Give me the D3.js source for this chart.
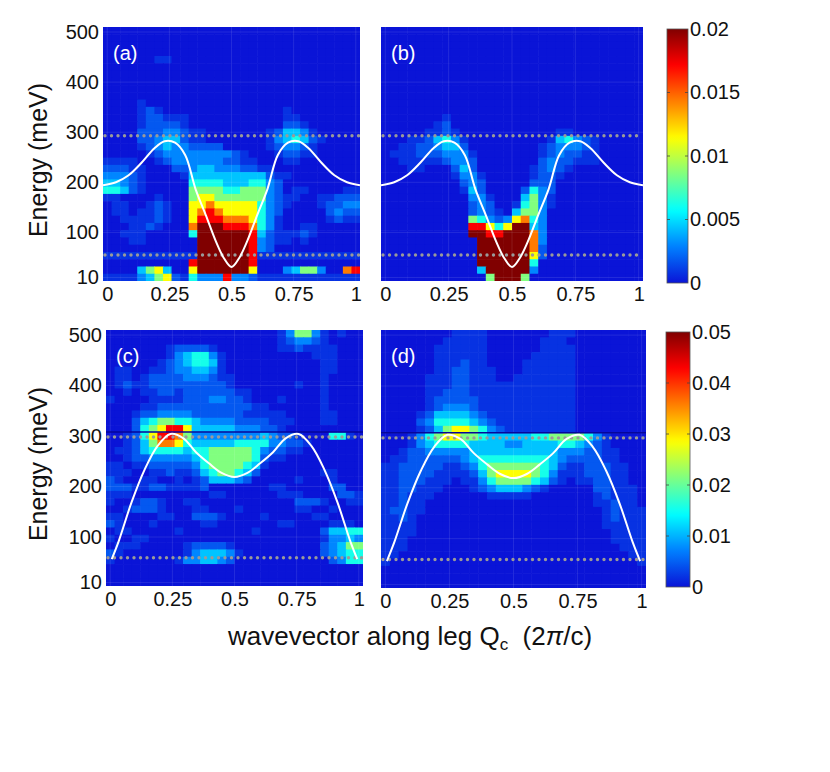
<!DOCTYPE html>
<html>
<head>
<meta charset="utf-8">
<script src="https://cdn.jsdelivr.net/npm/d3@7"></script>
<style>
  body { margin: 0; background: #fff; }
  text { font-family: "Liberation Sans", Arial, Helvetica, sans-serif; }
</style>
</head>
<body>
<svg id="chart" width="830" height="772"></svg>
<script>
// ---- data ----
const qTicks = [0, 0.25, 0.5, 0.75, 1];
const eTicks = [10, 100, 200, 300, 400, 500];
const cbTicksTop = [0, 0.005, 0.01, 0.015, 0.02];
const cbTicksBottom = [0, 0.01, 0.02, 0.03, 0.04, 0.05];

// intensity of each grid character, as a fraction of the colour bar maximum
const levelFrac = [0, 0.04, 0.09, 0.15, 0.22, 0.31, 0.43, 0.57, 0.72, 0.86, 1];

// heatmap grids: 35 energy rows (top = high energy), 30 wavevector columns
const gridA = [
  "0000000000|0000000000|0000000000",
  "0000000000|0000000000|0000000000",
  "0000000000|0000000000|0000000000",
  "0000000000|0000000000|0000000000",
  "0000001100|0000000000|0000000000",
  "0000000000|0000000000|0000000000",
  "0000000000|0000000000|0000000000",
  "0000000000|0000000000|0000000000",
  "0000000000|0000000000|0000000000",
  "0000000000|0000000000|0000000000",
  "0000100000|0000000000|0000000000",
  "0000121000|0000000000|0100000000",
  "0000122111|0000000000|0110000000",
  "0000122221|0000000000|0221000000",
  "0000222332|1100000001|2443100000",
  "0000223442|1100000001|3454210000",
  "0000123433|2222000001|2332100000",
  "0000012333|3333321000|1221100000",
  "1111001233|3333221100|0110000000",
  "2221100022|3443332211|0000000000",
  "3332100001|4444444442|1100000000",
  "4432100000|5555444553|2000000000",
  "5542100000|6666556663|2011000011",
  "1100001000|6776666663|2110011222",
  "0110012100|7787777753|2100012233",
  "0110112100|7898777753|2000002322",
  "0011112100|7999888753|1000001211",
  "0001121000|8aaa999853|1001100000",
  "0011100000|5aaaaaa942|1112100000",
  "0001100000|0aaaaaa932|1101000000",
  "0000000000|0aaaaaa932|0000000000",
  "1111111111|1aaaaaa911|1111111111",
  "0000000000|9aaaaaa900|0000000000",
  "0000467400|7aaaaaa700|0346630089",
  "1111346721|5333933211|1111111111"
];
const gridB = [
  "0000000000|0000000000|0000000000",
  "0000000000|0000000000|0000000000",
  "0000000000|0000000000|0000000000",
  "0000000000|0000000000|0000000000",
  "0000000000|0000000000|0000000000",
  "0000000000|0000000000|0000000000",
  "0000000000|0000000000|0000000000",
  "0000000000|0000000000|0000000000",
  "0000000000|0000000000|0000000000",
  "0000000000|0000000000|0000000000",
  "0000000000|0000000000|0000000000",
  "0000000000|0000000000|0000000000",
  "0000000100|0000000000|0000000000",
  "0000001200|0000000000|0000000000",
  "0000011210|0000000000|1100000000",
  "0001124531|0000000001|4532100000",
  "0011223442|0000000012|3332100000",
  "0111222333|1000000012|3221100000",
  "0011111233|2000000023|2211100000",
  "0001100024|2000000123|2100000000",
  "0000000013|3100000122|1000000000",
  "0000000002|3200000222|0000000000",
  "0000000001|4200002532|0000000000",
  "0000000000|3310004631|0000000000",
  "0000000000|2320015631|0000000000",
  "0000000000|2321046630|0000000000",
  "0000000000|6532378530|0000000000",
  "0000000000|99757aa430|0000000000",
  "0000000000|aa99aaa830|0000000000",
  "0000000000|0aaaaaa830|0000000000",
  "0000000000|0aaaaaa820|0000000000",
  "0000000000|0aaaaaa720|0000000000",
  "0000000000|0aaaaaa500|0000000000",
  "0000000000|04aaaaa300|0000000000",
  "0000000000|006aaa6000|0000000000"
];
const gridC = [
  "0000000000|0000000000|1366310100",
  "0000000000|0000000000|1233210000",
  "0000000122|2210000000|1121111000",
  "0000000134|5531000000|0000111000",
  "0000001234|5541000000|0000011000",
  "0110011233|4431000000|0000011000",
  "0110122223|3321100000|0000010000",
  "0121122222|2222100000|0010010000",
  "0010112212|2222211000|0000010000",
  "1000011112|2233221000|1000010000",
  "0000112222|2222222110|0000010000",
  "0001223333|2222221111|1000011000",
  "0002456655|4333322221|1100011000",
  "0002567997|4444433322|1000000000",
  "0012579986|3333333343|2210005510",
  "0012468875|4444455553|3221000000",
  "0112455554|5566666532|2110000000",
  "0012233333|4566666521|1000000000",
  "1101122222|3566665410|0000000000",
  "1110011211|2456654200|0000011000",
  "2100110010|1244432000|0010001000",
  "2221122111|1200000001|1000002200",
  "1110000000|0011000000|1110000221",
  "1001221001|1000000000|0022210011",
  "0012221000|1100010000|0011001000",
  "1100001100|2221000010|0000110000",
  "2100010000|0110000000|1100001110",
  "0110000010|0000000100|0000024455",
  "1001100000|0000000000|0000013343",
  "0111000001|2222100000|0000023466",
  "2100000001|3444310000|0000023455",
  "1000000013|3443200000|0000002355",
  "0000000000|0000000000|0000000000",
  "0000000000|0000000000|0000000000",
  "0000000000|0000000000|0000000000"
];
const gridD = [
  "0000000011|1100000001|1100000000",
  "0000000111|1100000011|1000000000",
  "0000001111|1100000011|1100000000",
  "0000001111|1100000111|1100000000",
  "0000001112|1100001111|1100000000",
  "0000001122|1110001111|1100000000",
  "0000011122|1110011111|1100000000",
  "0000011122|1111111111|1100000000",
  "0000011222|1111111111|1100000000",
  "0000012222|2111111111|1100000000",
  "0000012333|2111111111|1100000000",
  "0000124444|3211111111|1100000000",
  "0000235555|4321111111|1100000000",
  "0000124677|6532111111|1100000000",
  "0001356776|6544444556|6665310000",
  "0001345555|4444334444|5543210000",
  "0012233333|4444444444|3332211000",
  "0112222223|4555555554|3222211000",
  "1122222112|3566666654|2112221100",
  "1122221111|2467777653|1112221100",
  "1122211101|1356666542|1011221100",
  "1122111000|1234443210|0000221110",
  "1121110000|0011111000|0000121110",
  "1121100000|0000000000|0000112110",
  "1221100000|0000000000|0000012111",
  "1121000000|0000000000|0000012111",
  "1111000000|0000000000|0000011111",
  "1111000000|0000000000|0000001111",
  "1110000000|0000000000|0000001111",
  "1110000000|0000000000|0000000111",
  "1100000000|0000000000|0000000011",
  "1000000000|0000000000|0000000001",
  "0000000000|0000000000|0000000000",
  "0000000000|0000000000|0000000000",
  "0000000000|0000000000|0000000000"
];

// dispersion curves (wavevector, energy in meV)
const curveTopQ = [-0.017, 0.035, 0.086, 0.138, 0.19, 0.231, 0.273, 0.314, 0.355, 0.397, 0.438, 0.469, 0.5,
                   0.531, 0.562, 0.603, 0.645, 0.686, 0.727, 0.769, 0.81, 0.862, 0.914, 0.965, 1.017];
const curveTopE = [194, 200, 214, 239, 268, 282, 279, 254, 187, 134, 81, 49, 31,
                   49, 81, 134, 187, 254, 279, 282, 268, 239, 214, 200, 194];
const curveBotQ = [0.006, 0.035, 0.086, 0.138, 0.19, 0.242, 0.293, 0.345, 0.397, 0.448, 0.5,
                   0.552, 0.603, 0.655, 0.707, 0.758, 0.81, 0.862, 0.914, 0.965, 0.994];
const curveBotE = [56, 93, 169, 233, 280, 304, 296, 268, 246, 227, 219,
                   227, 246, 268, 296, 304, 280, 233, 169, 93, 56];

// dotted reference energies and the data gap line (meV)
const dotsTop = [293, 55];
const dotsBottom = [298, 59];
const gapBottom = [308];

// ---- layout ----
const qDomain = [-0.017, 1.017];
const eDomain = [3, 510];
const nCols = 30, nRows = 35;

const panels = [
  {label: '(a)', grid: gridA, cmax: 0.02, cq: curveTopQ, ce: curveTopE, dots: dotsTop, gap: [], x: 103, y: 27, w: 257, h: 254, left: true},
  {label: '(b)', grid: gridB, cmax: 0.02, cq: curveTopQ, ce: curveTopE, dots: dotsTop, gap: [], x: 381, y: 27, w: 262, h: 254, left: false},
  {label: '(c)', grid: gridC, cmax: 0.05, cq: curveBotQ, ce: curveBotE, dots: dotsBottom, gap: gapBottom, x: 106, y: 330, w: 257, h: 256, left: true},
  {label: '(d)', grid: gridD, cmax: 0.05, cq: curveBotQ, ce: curveBotE, dots: dotsBottom, gap: gapBottom, x: 381, y: 330, w: 265, h: 258, left: false}
];
const colorbars = [
  {ticks: cbTicksTop, x: 667, y: 29, w: 21, h: 254},
  {ticks: cbTicksBottom, x: 666, y: 332, w: 24, h: 255}
];

const FONT = '"Liberation Sans", Arial, Helvetica, sans-serif';

const svg = d3.select('#chart');
const defs = svg.append('defs');

// jet colour map starting at blue
const jet = d3.scaleLinear()
  .domain([0, 0.143, 0.286, 0.429, 0.571, 0.714, 0.857, 1])
  .range(['#0a14d7', '#0080ff', '#00ffff', '#80ff80', '#ffff00', '#ff8000', '#ff0000', '#800000'])
  .interpolate(d3.interpolateRgb)
  .clamp(true);

panels.forEach((p, i) => {
  const x = d3.scaleLinear().domain(qDomain).range([p.x, p.x + p.w]);
  const y = d3.scaleLinear().domain(eDomain).range([p.y + p.h, p.y]);
  const color = d3.scaleSequential(jet).domain([0, p.cmax]);

  const clipId = 'clip' + i;
  defs.append('clipPath').attr('id', clipId)
    .append('rect').attr('x', p.x).attr('y', p.y).attr('width', p.w).attr('height', p.h);

  const g = svg.append('g').attr('clip-path', `url(#${clipId})`);

  const cells = [];
  p.grid.forEach((row, j) => {
    const s = row.replace(/\|/g, '').padEnd(nCols, '0');
    s.split('').slice(0, nCols).forEach((ch, k) => {
      cells.push({k: k, j: j, v: levelFrac[parseInt(ch, 11)] * p.cmax});
    });
  });

  const dq = (qDomain[1] - qDomain[0]) / nCols;
  const dE = (eDomain[1] - eDomain[0]) / nRows;
  const cw = x(qDomain[0] + dq) - x(qDomain[0]);
  const ch = y(eDomain[1] - dE) - y(eDomain[1]);

  g.selectAll('.cell')
    .data(cells)
    .join('rect')
    .attr('class', 'cell')
    .attr('x', d => x(qDomain[0] + d.k * dq))
    .attr('y', d => y(eDomain[1] - d.j * dE))
    .attr('width', cw + 0.6)
    .attr('height', ch + 0.6)
    .attr('fill', d => color(d.v));

  // faint tick grid
  g.selectAll('.vgrid').data(qTicks).join('line')
    .attr('x1', d => x(d)).attr('x2', d => x(d))
    .attr('y1', p.y).attr('y2', p.y + p.h)
    .attr('stroke', '#ffffff').attr('stroke-opacity', 0.1);
  g.selectAll('.hgrid').data(eTicks).join('line')
    .attr('x1', p.x).attr('x2', p.x + p.w)
    .attr('y1', d => y(d)).attr('y2', d => y(d))
    .attr('stroke', '#ffffff').attr('stroke-opacity', 0.1);

  // gap line in the data
  g.selectAll('.gap').data(p.gap).join('line')
    .attr('x1', p.x).attr('x2', p.x + p.w)
    .attr('y1', d => y(d)).attr('y2', d => y(d))
    .attr('stroke', '#06069a').attr('stroke-width', 1.6);

  // dotted reference lines
  g.selectAll('.dots').data(p.dots).join('line')
    .attr('x1', p.x + 2).attr('x2', p.x + p.w)
    .attr('y1', d => y(d)).attr('y2', d => y(d))
    .attr('stroke', '#9a9a9a')
    .attr('stroke-width', 3.4)
    .attr('stroke-linecap', 'round')
    .attr('stroke-dasharray', '0 6.5');

  // dispersion curve
  const line = d3.line()
    .x(d => x(d[0]))
    .y(d => y(d[1]))
    .curve(d3.curveCatmullRom.alpha(0.5));
  g.append('path')
    .datum(d3.zip(p.cq, p.ce))
    .attr('d', line)
    .attr('fill', 'none')
    .attr('stroke', '#ffffff')
    .attr('stroke-width', 2);

  // panel label
  svg.append('text')
    .attr('x', p.x + 10)
    .attr('y', p.y + 33)
    .attr('fill', '#ffffff')
    .style('font-size', '20px')
    .text(p.label);

  // x axis
  const xAxisG = svg.append('g')
    .attr('transform', `translate(0,${p.y + p.h})`)
    .call(d3.axisBottom(x).tickValues(qTicks).tickFormat(d => String(d)).tickSize(0).tickPadding(6));
  xAxisG.select('.domain').remove();
  xAxisG.selectAll('text').style('font-size', '20px').style('font-family', FONT).attr('fill', '#111');

  if (p.left) {
    const yAxisG = svg.append('g')
      .attr('transform', `translate(${p.x},0)`)
      .call(d3.axisLeft(y).tickValues(eTicks).tickFormat(d => String(d)).tickSize(0).tickPadding(4));
    yAxisG.select('.domain').remove();
    yAxisG.selectAll('text').style('font-size', '20px').style('font-family', FONT).attr('fill', '#111');

    svg.append('text')
      .attr('transform', `translate(47,${p.y + p.h / 2 + 6}) rotate(-90)`)
      .attr('text-anchor', 'middle')
      .attr('fill', '#111')
      .style('font-size', '25px')
      .text('Energy (meV)');
  }
});

// colour bars
colorbars.forEach((cb, i) => {
  const cmax = cb.ticks[cb.ticks.length - 1];
  const yc = d3.scaleLinear().domain([0, cmax]).range([cb.y + cb.h, cb.y]);
  const grad = defs.append('linearGradient')
    .attr('id', 'cbgrad' + i)
    .attr('x1', 0).attr('x2', 0).attr('y1', 1).attr('y2', 0);
  d3.range(0, 1.0001, 0.02).forEach(t => {
    grad.append('stop').attr('offset', t).attr('stop-color', jet(t));
  });
  svg.append('rect')
    .attr('x', cb.x).attr('y', cb.y).attr('width', cb.w).attr('height', cb.h)
    .attr('fill', `url(#cbgrad${i})`)
    .attr('stroke', '#555').attr('stroke-width', 0.8);

  const tg = svg.append('g');
  tg.selectAll('.tl').data(cb.ticks.slice(1, -1)).join('line')
    .attr('x1', cb.x).attr('x2', cb.x + 3)
    .attr('y1', d => yc(d)).attr('y2', d => yc(d))
    .attr('stroke', '#444').attr('stroke-width', 0.8);
  tg.selectAll('.tr').data(cb.ticks.slice(1, -1)).join('line')
    .attr('x1', cb.x + cb.w - 3).attr('x2', cb.x + cb.w)
    .attr('y1', d => yc(d)).attr('y2', d => yc(d))
    .attr('stroke', '#444').attr('stroke-width', 0.8);

  const axG = svg.append('g')
    .attr('transform', `translate(${cb.x + cb.w},0)`)
    .call(d3.axisRight(yc).tickValues(cb.ticks).tickFormat(d => String(d)).tickSize(0).tickPadding(2));
  axG.select('.domain').remove();
  axG.selectAll('text').style('font-size', '20px').style('font-family', FONT).attr('fill', '#111');
});

// shared x label
const xl = svg.append('text')
  .attr('x', 410)
  .attr('y', 645)
  .attr('text-anchor', 'middle')
  .attr('fill', '#111')
  .style('font-size', '26px');
xl.append('tspan').text('wavevector along leg Q');
xl.append('tspan').attr('dy', 5).style('font-size', '17px').text('c');
xl.append('tspan').attr('dy', -5).text('\u00a0\u00a0(2');
xl.append('tspan').style('font-style', 'italic').text('\u03c0');
xl.append('tspan').text('/c)');
</script>
</body>
</html>
